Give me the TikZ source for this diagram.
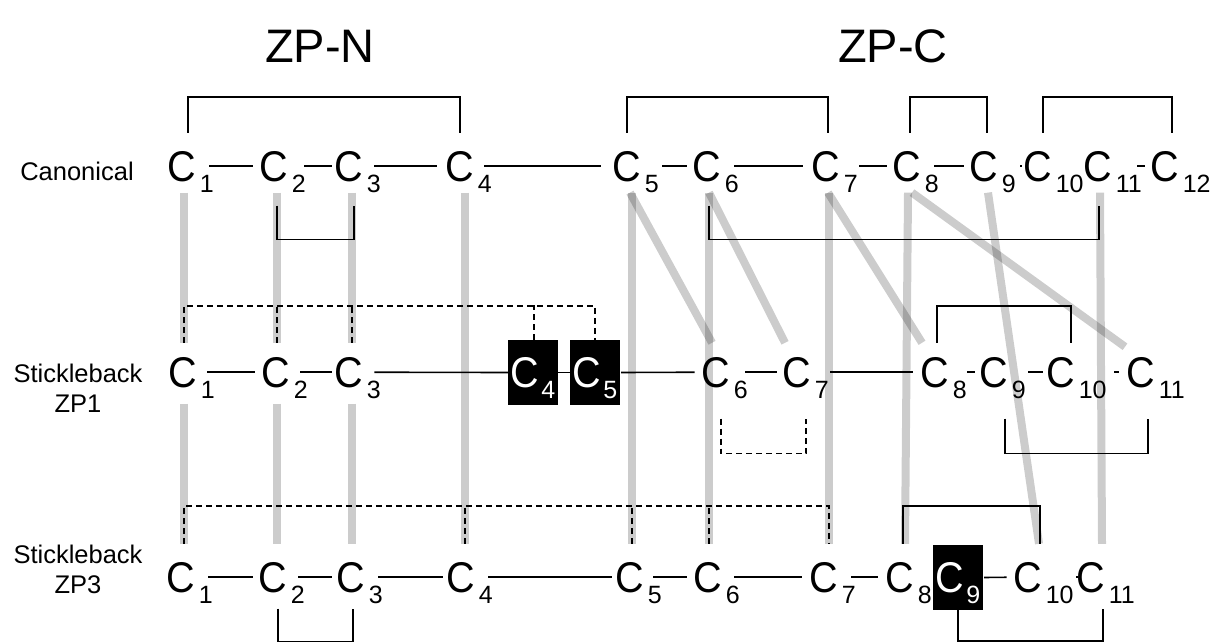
\documentclass[tikz,border=0pt]{standalone}
\usepackage{fontspec}
\setmainfont{Liberation Sans}
\usepackage{graphicx}
\usepackage{tikz}
\usetikzlibrary{positioning, backgrounds, calc}
\newcommand{\subfnt}{\fontsize{25}{25}\selectfont}
\newcommand{\cc}{\scalebox{0.92}[1]{C}}
\newcommand{\cy}[1]{\cc\rlap{\hspace{3.5pt}\smash{\raisebox{-11pt}{\subfnt #1}}}}
\newcommand{\cynew}[1]{\cc\hspace{2pt}\raisebox{-11pt}{\subfnt #1}}

\begin{document}
\begin{tikzpicture}[x=1pt, y=1pt,
    cys/.style={inner sep=0pt, anchor=base, font=\fontsize{43}{43}\selectfont},
    newcys/.style={fill=black, text=white, inner xsep=0pt, inner ysep=0pt, minimum width=50pt, text height=47pt, text depth=18pt, anchor=base, font=\fontsize{43}{43}\selectfont},
    rowlbl/.style={align=center, font=\fontsize{25.5}{30}\selectfont},
    ttl/.style={anchor=base, font=\fontsize{47}{47}\selectfont},
    bond/.style={line width=1.6pt},
    link/.style={bond, shorten <=13pt, shorten >=6pt},
    dbond/.style={line width=1.6pt, dash pattern=on 6pt off 4pt},
    alnbar/.style={line width=8pt, draw=black, draw opacity=0.2},
]
    \useasboundingbox (0,0) rectangle (1215,-643);

    % Domain titles
    \node[ttl] (zpn) at (320,-62) {ZP-N};
    \node[ttl] (zpc) at (893,-62) {ZP-C};

    % Row labels
    \node[rowlbl, anchor=base] (canon) at (77,-180) {Canonical};
    \node[rowlbl] (zp1) at (78,-388) {Stickleback\\ZP1};
    \node[rowlbl] (zp3) at (78,-569) {Stickleback\\ZP3};

    % Canonical cysteines
    \node[cys] (k1) at (182,-181) {\cy{1}};
    \node[cys] (k2) at (274,-181) {\cy{2}};
    \node[cys] (k3) at (349,-181) {\cy{3}};
    \node[cys] (k4) at (460,-181) {\cy{4}};
    \node[cys] (k5) at (627,-181) {\cy{5}};
    \node[cys] (k6) at (707,-181) {\cy{6}};
    \node[cys] (k7) at (826,-181) {\cy{7}};
    \node[cys] (k8) at (907,-181) {\cy{8}};
    \node[cys] (k9) at (984,-181) {\cy{9}};
    \node[cys] (k10) at (1038,-181) {\cy{10}};
    \node[cys] (k11) at (1098,-181) {\cy{11}};
    \node[cys] (k12) at (1165,-181) {\cy{12}};

    % Stickleback ZP1 cysteines
    \node[cys] (p1) at (183,-387) {\cy{1}};
    \node[cys] (p2) at (276,-387) {\cy{2}};
    \node[cys] (p3) at (349,-387) {\cy{3}};
    \node[newcys] (b4) at (533,-387) {\cynew{4}};
    \node[newcys] (b5) at (595,-387) {\cynew{5}};
    \node[cys] (p6) at (716,-387) {\cy{6}};
    \node[cys] (p7) at (797,-387) {\cy{7}};
    \node[cys] (p8) at (935,-387) {\cy{8}};
    \node[cys] (p9) at (994,-387) {\cy{9}};
    \node[cys] (p10) at (1061,-387) {\cy{10}};
    \node[cys] (p11) at (1141,-387) {\cy{11}};

    % Stickleback ZP3 cysteines
    \node[cys] (z1) at (181,-592) {\cy{1}};
    \node[cys] (z2) at (273,-592) {\cy{2}};
    \node[cys] (z3) at (351,-592) {\cy{3}};
    \node[cys] (z4) at (461,-592) {\cy{4}};
    \node[cys] (z5) at (630,-592) {\cy{5}};
    \node[cys] (z6) at (708,-592) {\cy{6}};
    \node[cys] (z7) at (824,-592) {\cy{7}};
    \node[cys] (z8) at (900,-592) {\cy{8}};
    \node[newcys] (b9) at (958,-592) {\cynew{9}};
    \node[cys] (z10) at (1028,-592) {\cy{10}};
    \node[cys] (z11) at (1091,-592) {\cy{11}};

    % Bonds: canonical
    \draw[link, shorten >=7pt] (k1.east) -- (k2.west);
    \draw[link, shorten <=16pt, shorten >=3pt] (k2.east) -- (k3.west);
    \draw[link, shorten <=11pt, shorten >=9pt] (k3.east) -- (k4.west);
    \draw[link, shorten <=10pt, shorten >=12pt] (k4.east) -- (k5.west);
    \draw[link, shorten <=21pt] (k5.east) -- (k6.west);
    \draw[link, shorten >=9pt] (k6.east) -- (k7.west);
    \draw[link, shorten <=19pt] (k7.east) -- (k8.west);
    \draw[link] (k8.east) -- (k9.west);
    \draw[link, shorten <=21.7pt, shorten >=1.7pt] (k9.east) -- (k10.west);
    \draw[link, shorten <=24.7pt] (k11.east) -- (k12.west);

    % Bonds: ZP1
    \draw[link, shorten <=10pt, shorten >=7pt] (p1.east) -- (p2.west);
    \draw[link, shorten <=10pt, shorten >=3pt] (p2.east) -- (p3.west);
    \draw[link, shorten <=11pt, shorten >=0pt] (p3.east) -- (b4.west);
    \draw[bond] (b4.east) -- (b5.west);
    \draw[link, shorten <=1pt, shorten >=7pt] (b5.east) -- (p6.west);
    \draw[link, shorten <=15pt] (p6.east) -- (p7.west);
    \draw[link, shorten <=19pt, shorten >=8pt] (p7.east) -- (p8.west);
    \draw[link, shorten <=18pt, shorten >=5pt] (p8.east) -- (p9.west);
    \draw[link, shorten <=20pt, shorten >=4pt] (p9.east) -- (p10.west);
    \draw[link, shorten <=39pt, shorten >=8pt] (p10.east) -- (p11.west);

    % Bonds: ZP3
    \draw[link] (z1.east) -- (z2.west);
    \draw[link, shorten <=11pt, shorten >=5pt] (z2.east) -- (z3.west);
    \draw[link, shorten >=4pt] (z3.east) -- (z4.west);
    \draw[link, shorten >=4pt] (z4.east) -- (z5.west);
    \draw[link, shorten <=9pt, shorten >=7pt] (z5.east) -- (z6.west);
    \draw[link, shorten <=12pt, shorten >=8pt] (z6.east) -- (z7.west);
    \draw[link, shorten >=8pt] (z7.east) -- (z8.west);
    \draw[link, shorten <=1pt, shorten >=7pt] (b9.east) -- (z10.west);
    \draw[link, shorten <=33.7pt, shorten >=-1pt] (z10.east) -- (z11.west);

    % Disulfide brackets: canonical
    \draw[bond] ([xshift=6pt,yshift=18pt]k1.north) -- ++(0,36pt) -| ([yshift=18pt]k4.north);
    \draw[bond] ([yshift=18pt]k5.north) -- ++(0,36pt) -| ([xshift=2pt,yshift=18pt]k7.north);
    \draw[bond] ([xshift=3pt,yshift=18pt]k8.north) -- ++(0,36pt) -| ([xshift=3pt,yshift=18pt]k9.north);
    \draw[bond] ([xshift=5pt,yshift=18pt]k10.north) -- ++(0,36pt) -| ([xshift=7pt,yshift=18pt]k12.north);
    \draw[bond] ([xshift=3pt,yshift=-24pt]k2.south) -- ++(0,-34pt) -| ([xshift=5pt,yshift=-24pt]k3.south);
    \draw[bond] ([xshift=2pt,yshift=-24pt]k6.south) -- ++(0,-34pt) -| ([xshift=1pt,yshift=-24pt]k11.south);

    % Disulfide brackets: ZP1
    \draw[dbond] ([xshift=1pt,yshift=14pt]p1.north) -- ++(0,37pt) -| (b5.north);
    \draw[dbond] ([xshift=1pt,yshift=14pt]p2.north) -- ++(0,37pt);
    \draw[dbond] ([xshift=3pt,yshift=14pt]p3.north) -- ++(0,37pt);
    \draw[dbond] ([xshift=1pt]b4.north) -- ++(0,35pt);
    \draw[bond] ([xshift=2pt,yshift=14pt]p8.north) -- ++(0,37pt) -| ([xshift=10pt,yshift=14pt]p10.north);
    \draw[dbond] ([xshift=5pt,yshift=-31pt]p6.south) -- ++(0,-35pt) -| ([xshift=9pt,yshift=-31pt]p7.south);
    \draw[bond] ([xshift=11pt,yshift=-31pt]p9.south) -- ++(0,-35pt) -| ([xshift=7pt,yshift=-31pt]p11.south);

    % Disulfide brackets: ZP3
    \draw[dbond] ([xshift=3pt,yshift=18pt]z1.north) -- ++(0,38pt) -| ([xshift=5pt,yshift=18pt]z7.north);
    \draw[dbond] ([xshift=4pt,yshift=18pt]z4.north) -- ++(0,38pt);
    \draw[dbond] ([xshift=2pt,yshift=18pt]z5.north) -- ++(0,38pt);
    \draw[dbond] ([xshift=1pt,yshift=18pt]z6.north) -- ++(0,38pt);
    \draw[bond] ([xshift=3pt,yshift=18pt]z8.north) -- ++(0,38pt) -| ([xshift=12pt,yshift=18pt]z10.north);
    \draw[bond] ([xshift=5pt,yshift=-16pt]z2.south) -- ++(0,-33pt) -| ([xshift=2pt,yshift=-16pt]z3.south);
    \draw[bond] (b9.south) -- ++(0,-31pt) -| ([xshift=12pt,yshift=-16pt]z11.south);

    % Alignment bars
    \begin{scope}[on background layer]
        \draw[alnbar] ([xshift=2pt,yshift=-11pt]k1.south) -- ([xshift=1pt,yshift=14pt]p1.north);
        \draw[alnbar] ([xshift=3pt,yshift=-11pt]k2.south) -- ([xshift=1pt,yshift=14pt]p2.north);
        \draw[alnbar] ([xshift=3pt,yshift=-11pt]k3.south) -- ([xshift=3pt,yshift=14pt]p3.north);
        \draw[alnbar] ([xshift=1pt,yshift=-16pt]p1.south) -- ([xshift=3pt,yshift=18pt]z1.north);
        \draw[alnbar] ([xshift=1pt,yshift=-16pt]p2.south) -- ([xshift=4pt,yshift=18pt]z2.north);
        \draw[alnbar] ([xshift=3pt,yshift=-16pt]p3.south) -- ([xshift=1pt,yshift=18pt]z3.north);
        \draw[alnbar] ([xshift=5pt,yshift=-11pt]k4.south) -- ([xshift=4pt,yshift=18pt]z4.north);
        \draw[alnbar] ([xshift=5pt,yshift=-11pt]k5.south) -- ([xshift=2pt,yshift=18pt]z5.north);
        \draw[alnbar] ([xshift=2pt,yshift=-11pt]k6.south) -- ([xshift=1pt,yshift=18pt]z6.north);
        \draw[alnbar] ([xshift=3pt,yshift=-11pt]k7.south) -- ([xshift=5pt,yshift=18pt]z7.north);
        \draw[alnbar] ([xshift=1pt,yshift=-11pt]k8.south) -- ([xshift=5pt,yshift=18pt]z8.north);
        \draw[alnbar] ([xshift=4pt,yshift=-11pt]k9.south) -- ([xshift=11pt,yshift=18pt]z10.north);
        \draw[alnbar] ([xshift=2pt,yshift=-11pt]k11.south) -- ([xshift=11pt,yshift=18pt]z11.north);
        \draw[alnbar] ([xshift=3pt,yshift=-11pt]k5.south) -- ([xshift=-4pt,yshift=14pt]p6.north);
        \draw[alnbar] ([xshift=2pt,yshift=-11pt]k6.south) -- ([xshift=-12pt,yshift=14pt]p7.north);
        \draw[alnbar] ([xshift=2pt,yshift=-11pt]k7.south) -- ([xshift=-13pt,yshift=14pt]p8.north);
        \draw[alnbar] ([xshift=5pt,yshift=-11pt]k8.south) -- ([xshift=-16pt,yshift=10pt]p11.north);
    \end{scope}
\end{tikzpicture}
\end{document}
